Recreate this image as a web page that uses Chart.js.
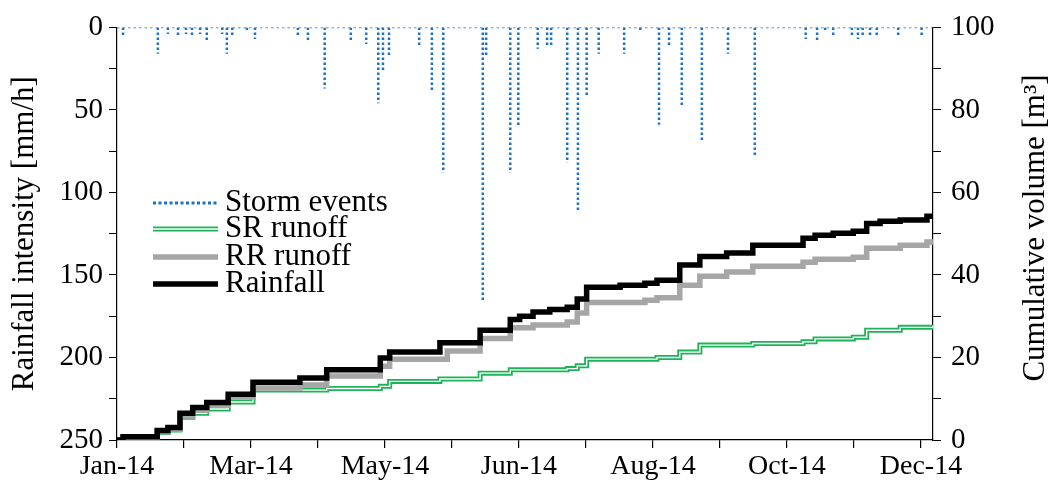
<!DOCTYPE html>
<html>
<head>
<meta charset="utf-8">
<script src="https://cdn.jsdelivr.net/npm/chart.js@4"></script>
<style>
  html, body { margin: 0; padding: 0; background: #fff; }
  #wrap { width: 1052px; height: 487px; }
</style>
</head>
<body>
<div id="wrap"><canvas id="rainChart" width="1052" height="487"></canvas></div>
<script>
// x values are months since 1 Jan 2014
const monthLabels = ['Jan-14', 'Mar-14', 'May-14', 'Jun-14', 'Aug-14', 'Oct-14', 'Dec-14'];

// storm events: time and peak rainfall intensity [mm/h]
const stormMonth = [0.09, 0.61, 0.76, 0.91, 1.03, 1.12, 1.24, 1.34, 1.57, 1.64, 1.72, 1.94, 2.06, 2.70, 2.85,
  3.10, 3.49, 3.72, 3.90, 3.97, 4.06, 4.51, 4.70, 4.87, 5.46, 5.51, 5.87, 5.99, 6.28, 6.42, 6.48,
  6.72, 6.88, 7.01, 7.19, 7.57, 7.81, 8.09, 8.24, 8.43, 8.73, 9.12, 9.52, 10.28, 10.45, 10.57,
  10.69, 10.97, 11.06, 11.13, 11.24, 11.34, 11.66, 12.01];
const stormMm = [5, 16, 4, 6, 4, 5, 4, 9, 4, 16, 5, 2, 7, 5, 9,
  37, 9, 10, 46, 26, 17, 11, 38, 88, 166, 18, 88, 60, 13, 11, 11,
  82, 112, 42, 16, 16, 2, 59, 12, 47, 69, 16, 78, 7, 9, 3,
  5, 5, 7, 6, 5, 6, 6, 5];

// cumulative volumes [m3]
const rainMonth = [0, 0.09, 0.6, 0.76, 0.94, 1.13, 1.34, 1.66, 2.03, 2.73, 3.13, 3.93, 4.07, 4.82, 5.42,
  5.87, 6.01, 6.21, 6.46, 6.72, 6.87, 7.01, 7.51, 7.88, 8.06, 8.40, 8.70, 9.10, 9.49, 10.24,
  10.42, 10.69, 10.99, 11.19, 11.39, 11.69, 12.09, 12.18];
const rainVol = [0, 0.8, 2.3, 3.0, 6.5, 7.9, 9.1, 11.1, 14, 15, 17, 19.9, 21.3, 23.6, 26.6,
  29.2, 30, 31, 31.6, 32.2, 34.2, 37, 37.5, 38, 38.7, 42.4, 44.5, 45.3, 47.2, 48.9,
  49.6, 50.1, 50.6, 52.5, 53, 53.3, 54.2, 54.5];

const rrMonth = [0, 0.09, 0.6, 0.76, 0.94, 1.13, 1.34, 1.66, 2.03, 2.73, 3.13, 3.93, 4.07, 4.93, 5.42,
  5.87, 6.21, 6.72, 6.87, 7.01, 7.88, 8.06, 8.40, 8.70, 9.10, 9.49, 10.24, 10.42, 10.99,
  11.19, 11.69, 12.09, 12.18];
const rrVol = [0, 0.6, 2, 2.6, 5.8, 7.2, 8.4, 10.5, 12.6, 13.3, 15.5, 17.9, 19.6, 21.6, 24.6,
  27.2, 27.9, 28.6, 30.8, 33.3, 33.9, 34.5, 37.5, 39.7, 40.7, 42.1, 43.1, 43.8, 44.3,
  46.5, 47.2, 48, 48.2];

const srMonth = [0, 0.6, 0.76, 0.94, 1.13, 1.34, 1.66, 2.03, 3.13, 3.93, 4.07, 4.82, 5.42,
  5.87, 6.72, 6.87, 7.01, 8.06, 8.40, 8.70, 9.49, 10.24, 10.42, 10.99, 11.19, 11.69, 12.18];
const srVol = [0, 1.8, 2.4, 5.5, 6.5, 7.5, 9.2, 12.1, 12.5, 13, 14.2, 14.8, 16.2,
  17, 17.3, 18, 19.6, 20, 21.3, 23, 23.4, 23.8, 24.5, 24.9, 26.6, 27.3, 27.7];

const FONT = "'Liberation Serif', 'Times New Roman', serif";
const BLUE = 'rgb(26,114,196)';
const GREEN = 'rgb(30,178,90)';
const GRAY = 'rgb(166,166,166)';

function toPoints(xs, ys) {
  return xs.map((x, i) => ({ x: x, y: ys[i] }));
}

// each storm drops from zero to its peak; gaps keep the dots from overlapping
const stormPoints = [];
stormMonth.forEach((m, i) => {
  stormPoints.push({ x: m, y: 0 }, { x: m, y: stormMm[i] }, { x: m, y: null });
});
// zero-intensity stretch along the top
const stormBase = [{ x: 0, y: 0 }, { x: 12.18, y: 0 }];

// legend + right title drawn on the canvas (double SR line, title reads bottom-up)
const extrasPlugin = {
  id: 'serifExtras',
  afterDatasetsDraw(chart) {
    const ctx = chart.ctx;
    const x0 = 153, x1 = 218, tx = 225;
    const rows = [
      { y: 203, text: 'Storm events', kind: 'storm' },
      { y: 229, text: 'SR runoff', kind: 'sr' },
      { y: 257, text: 'RR runoff', kind: 'rr' },
      { y: 284, text: 'Rainfall', kind: 'rain' }
    ];
    ctx.save();
    rows.forEach(r => {
      ctx.beginPath();
      ctx.moveTo(x0, r.y);
      ctx.lineTo(x1, r.y);
      ctx.setLineDash([]);
      if (r.kind === 'storm') {
        ctx.strokeStyle = BLUE; ctx.lineWidth = 3; ctx.setLineDash([3, 2.5]);
        ctx.stroke();
      } else if (r.kind === 'sr') {
        ctx.strokeStyle = GREEN; ctx.lineWidth = 5; ctx.stroke();
        ctx.beginPath(); ctx.moveTo(x0, r.y); ctx.lineTo(x1, r.y);
        ctx.strokeStyle = '#fff'; ctx.lineWidth = 1.4; ctx.stroke();
      } else if (r.kind === 'rr') {
        ctx.strokeStyle = GRAY; ctx.lineWidth = 5.5; ctx.stroke();
      } else {
        ctx.strokeStyle = '#000'; ctx.lineWidth = 5.5; ctx.stroke();
      }
      ctx.setLineDash([]);
      ctx.fillStyle = '#000';
      ctx.font = '31px ' + FONT;
      ctx.textBaseline = 'alphabetic';
      ctx.fillText(r.text, tx, r.y + 8);
    });

    // right axis title
    ctx.translate(1036, 228);
    ctx.rotate(-Math.PI / 2);
    ctx.font = '31px ' + FONT;
    ctx.textAlign = 'center';
    ctx.textBaseline = 'middle';
    ctx.fillText('Cumulative volume [m³]', 0, 0);
    ctx.restore();
  }
};

const ctx = document.getElementById('rainChart').getContext('2d');
new Chart(ctx, {
  type: 'line',
  data: {
    datasets: [
      {
        label: 'Rainfall',
        data: toPoints(rainMonth, rainVol),
        yAxisID: 'yVol',
        borderColor: '#000',
        borderWidth: 5.5,
        stepped: true,
        pointRadius: 0,
        order: 0
      },
      {
        label: 'RR runoff',
        data: toPoints(rrMonth, rrVol),
        yAxisID: 'yVol',
        borderColor: GRAY,
        borderWidth: 5.5,
        stepped: true,
        pointRadius: 0,
        order: 1
      },
      {
        label: 'SR runoff inner',
        data: toPoints(srMonth, srVol),
        yAxisID: 'yVol',
        borderColor: '#fff',
        borderWidth: 1.4,
        stepped: true,
        pointRadius: 0,
        order: 2
      },
      {
        label: 'SR runoff',
        data: toPoints(srMonth, srVol),
        yAxisID: 'yVol',
        borderColor: GREEN,
        borderWidth: 5,
        stepped: true,
        pointRadius: 0,
        order: 3
      },
      {
        label: 'Storm events',
        data: stormPoints,
        yAxisID: 'yRain',
        borderColor: BLUE,
        borderWidth: 2.5,
        borderDash: [2.5, 2.5],
        pointRadius: 0,
        spanGaps: false,
        order: 4
      },
      {
        label: 'Storm events base',
        data: stormBase,
        yAxisID: 'yRain',
        borderColor: BLUE,
        borderWidth: 1.5,
        borderDash: [2.5, 3],
        pointRadius: 0,
        order: 5
      }
    ]
  },
  options: {
    responsive: false,
    animation: false,
    layout: { padding: { top: 27, left: 0, right: 0, bottom: 0 } },
    plugins: {
      legend: { display: false },
      tooltip: { enabled: false }
    },
    scales: {
      x: {
        type: 'linear',
        min: 0,
        max: 12.18,
        afterBuildTicks: axis => {
          axis.ticks = [];
          for (let m = 0; m <= 12; m++) axis.ticks.push({ value: m });
        },
        afterFit: axis => { axis.height = 47; },
        border: { display: true, color: '#000', width: 1.2 },
        grid: { display: true, drawOnChartArea: false, drawTicks: true, tickLength: 8, color: '#000', lineWidth: 1.2 },
        ticks: {
          color: '#000',
          font: { family: FONT, size: 28 },
          maxRotation: 0,
          autoSkip: false,
          padding: 2,
          callback: v => (v % 2 === 0 ? monthLabels[v / 2] : '')
        }
      },
      yRain: {
        type: 'linear',
        position: 'left',
        reverse: true,
        min: 0,
        max: 250,
        afterFit: axis => { axis.width = 117; },
        border: { display: true, color: '#000', width: 1.2 },
        grid: { display: true, drawOnChartArea: false, tickLength: 8, color: '#000', lineWidth: 1 },
        ticks: {
          stepSize: 12.5,
          color: '#000',
          font: { family: FONT, size: 29 },
          padding: 6,
          callback: v => (v % 50 === 0 ? v : '')
        },
        title: {
          display: true,
          text: 'Rainfall intensity [mm/h]',
          color: '#000',
          font: { family: FONT, size: 31 },
          padding: { top: 6, bottom: 0 }
        }
      },
      yVol: {
        type: 'linear',
        position: 'right',
        min: 0,
        max: 100,
        afterFit: axis => { axis.width = 119; },
        border: { display: true, color: '#000', width: 1.2 },
        grid: { display: true, drawOnChartArea: false, tickLength: 8, color: '#000', lineWidth: 1 },
        ticks: {
          stepSize: 5,
          color: '#000',
          font: { family: FONT, size: 29 },
          padding: 10,
          callback: v => (v % 20 === 0 ? v : '')
        }
      }
    }
  },
  plugins: [extrasPlugin]
});
</script>
</body>
</html>
